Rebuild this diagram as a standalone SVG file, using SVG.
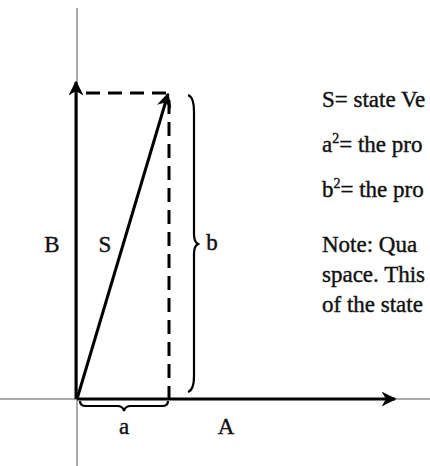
<svg xmlns="http://www.w3.org/2000/svg" width="430" height="466" viewBox="0 0 430 466">
<style>
.t{font-family:"Liberation Serif","DejaVu Serif",serif;font-size:23px;fill:#111;stroke:#111;stroke-width:0.4}
.lbl{font-family:"Liberation Serif","DejaVu Serif",serif;font-size:23px;fill:#111;stroke:#111;stroke-width:0.4;text-anchor:middle}
.axis{stroke:#555;stroke-width:1;fill:none}
.thick{stroke:#000;stroke-width:3;fill:none}
.dash{stroke:#000;stroke-width:3;fill:none;stroke-dasharray:14 8}
.brace{stroke:#000;stroke-width:2.2;fill:none}
</style>
<defs>
<marker id="ah" viewBox="0 0 10 10" refX="9" refY="5" markerWidth="5" markerHeight="5" orient="auto" markerUnits="strokeWidth">
<path d="M0,0 L10,5 L0,10 L3,5 Z" fill="#000"/>
</marker>
</defs>
<g id="axes">
<line class="axis" x1="77" y1="8" x2="77" y2="466"/>
<line class="axis" x1="0" y1="399" x2="430" y2="399"/>
</g>
<g id="connectors">
<line id="arrowB" class="thick" x1="76" y1="399" x2="76" y2="82" marker-end="url(#ah)"/>
<line id="arrowA" class="thick" x1="77" y1="399" x2="395" y2="399" marker-end="url(#ah)"/>
<line id="arrowS" class="thick" stroke-width="2.6" x1="77" y1="399" x2="168" y2="94" marker-end="url(#ah)"/>
<line id="dashH" class="dash" x1="86" y1="93" x2="166" y2="93"/>
<line id="dashV" class="dash" x1="169" y1="100" x2="169" y2="399"/>
</g>
<g id="braceB">
<path class="brace" d="M188,95 Q194,97 194,112 L194,234 Q194,242 198,244 Q194,246 194,254 L194,376 Q194,390 188,392"/>
</g>
<g id="braceA">
<path class="brace" d="M80,401 Q80,406 86,406 L117,406 Q123,406 124,411 Q125,406 131,406 L162,406 Q168,406 168,401"/>
</g>
<g id="labels">
<text class="lbl" x="52" y="252">B</text>
<text class="lbl" x="105" y="252">S</text>
<text class="lbl" x="212" y="250">b</text>
<text class="lbl" x="124" y="434">a</text>
<text class="lbl" x="226" y="434">A</text>
</g>
<g id="legend">
<text class="t" x="322" y="107">S= state Ve</text>
<text class="t" x="322" y="152">a<tspan font-size="14" dy="-9">2</tspan><tspan dy="9">= the pro</tspan></text>
<text class="t" x="322" y="197">b<tspan font-size="14" dy="-9">2</tspan><tspan dy="9">= the pro</tspan></text>
<text class="t" x="322" y="252">Note: Qua</text>
<text class="t" x="322" y="282">space. This</text>
<text class="t" x="322" y="312">of the state</text>
</g>
</svg>
